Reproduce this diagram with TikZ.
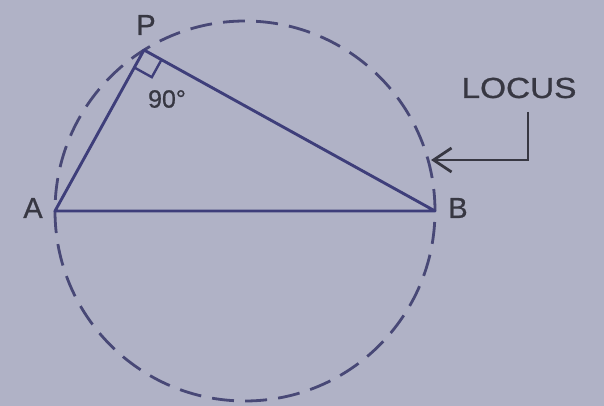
\documentclass[tikz,border=0pt]{standalone}
\usepackage{fontspec}
\setmainfont{Liberation Sans}
\newfontfamily\lblfont[FakeBold=0.8]{Liberation Sans}
\usetikzlibrary{calc,arrows.meta}
\definecolor{bgc}{RGB}{176,178,198}
\definecolor{linec}{RGB}{62,62,122}
\definecolor{dashc}{RGB}{72,72,118}
\definecolor{textc}{RGB}{55,55,66}
\tikzset{
  side/.style={draw=linec,line width=2.9pt},
  locusline/.style={draw=dashc,line width=2.8pt,dash pattern=on 22pt off 11.17pt},
  lbl/.style={text=textc,font=\lblfont\fontsize{29}{31}\selectfont,inner sep=0pt},
  pointer/.style={draw=textc,line width=2.8pt,-{Straight Barb[length=18pt,width=24pt,line width=2.8pt]}}
}
\begin{document}
\begin{tikzpicture}[x=1pt,y=-1pt]
  \useasboundingbox[fill=bgc] (0,0) rectangle (604,406);
  \coordinate (O) at (245,211);
  \coordinate (A) at (55,211);
  \coordinate (B) at (435,211);
  \coordinate (P) at (144,50);
  % locus circle
  \draw[locusline] (O) circle[radius=190pt];
  % triangle
  \draw[side,line join=round] (A) -- (P) -- (B) -- cycle;
  % right-angle mark
  \coordinate (Pa) at ($(P)!20pt!(A)$);
  \coordinate (Pb) at ($(P)!20pt!(B)$);
  \draw[draw=linec,line width=2.4pt] (Pa) -- ($(Pa)+(Pb)-(P)$) -- (Pb);
  % labels
  \node[lbl] (lP) at (146,25) {P};
  \node[lbl] (lA) at (33,208) {A};
  \node[lbl] (lB) at (458,208) {B};
  \node[lbl,font=\lblfont\fontsize{25}{27}\selectfont] (l90) at (167,99) {90°};
  \node[lbl,xscale=1.15] (locus) at (519,88) {LOCUS};
  % pointer
  \coordinate (tip) at (431,160);
  \coordinate (start) at (528,112);
  \draw[pointer] (start) |- (tip);
\end{tikzpicture}
\end{document}
